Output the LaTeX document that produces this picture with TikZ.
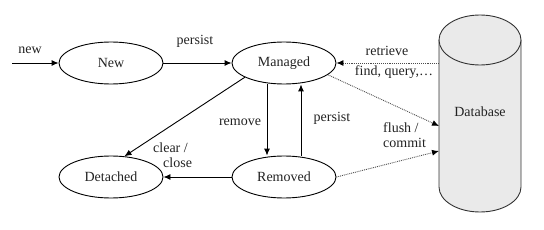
\documentclass[tikz,border=0pt]{standalone}
\usepackage{fontspec}
\setmainfont{Liberation Serif}
\usetikzlibrary{shapes.geometric,arrows.meta}
\definecolor{dbfill}{HTML}{EAEAEA}
\definecolor{txt}{HTML}{222222}
\begin{document}
\begin{tikzpicture}[x=1pt,y=-1pt,
  every node/.style={font=\fontsize{14pt}{15pt}\selectfont, text=txt},
  state/.style={ellipse, draw, line width=0.9pt, minimum width=104pt, minimum height=42pt, inner sep=0pt},
  arr/.style={line width=0.9pt, -{Latex[length=7pt,width=6pt]}},
  dotarr/.style={line width=0.9pt, densely dotted, draw=black!70, -{Latex[length=7pt,width=6pt,color=black,fill=black]}},
  lbl/.style={inner sep=0pt}]
\useasboundingbox (0,0) rectangle (544,230);
% database cylinder
\path[fill=dbfill] (439,40) -- (439,187) arc[start angle=180,end angle=360,x radius=41pt,y radius=25pt] -- (521,40) -- cycle;
\draw[line width=0.9pt, draw=black!80] (439,40) -- (439,187) arc[start angle=180,end angle=360,x radius=41pt,y radius=25pt] -- (521,40);
\draw[line width=0.9pt, draw=black!80, fill=dbfill] (480,40) ellipse[x radius=41pt, y radius=25pt];
\node[inner sep=0pt, minimum width=82pt, minimum height=120pt] (db) at (480,112) {Database};
\coordinate (f1) at (439,126);
\coordinate (f2) at (439,151);
% states
\node[state] (n) at (111,63) {New};
\node[state] (m) at (284,63) {Managed};
\node[state] (d) at (111,177) {Detached};
\node[state] (r) at (284,177) {Removed};
\coordinate (start) at (12,63);
% connectors
\draw[arr] (start) -- (n);
\node[lbl] (lnew) at (30,50) {new};
\draw[arr] (n) -- (m);
\node[lbl] (lp1) at (195,41) {persist};
\draw[arr] (m.200) -- (d.57);
\draw[arr] ([xshift=-17pt]m.south) -- ([xshift=-17pt]r.north);
\node[lbl] (lrm) at (240,122) {remove};
\draw[arr] ([xshift=17pt]r.north) -- ([xshift=17pt]m.south);
\node[lbl] (lp2) at (332,118) {persist};
\draw[arr] (r) -- (d);
\node[lbl, align=left, anchor=west] (lcc) at (153,155) {clear /\\\hspace*{10pt}close};
\draw[dotarr] (db.west |- m) -- (m);
\node[lbl] (lret) at (387,51) {retrieve};
\node[lbl] (lfind) at (394,72) {find, query,…};
\draw[dotarr] (m.-15) -- (f1);
\draw[dotarr] (r.east) -- (f2);
\node[lbl, align=left, anchor=west] (lfc) at (383,135) {flush /\\commit};
\end{tikzpicture}
\end{document}
